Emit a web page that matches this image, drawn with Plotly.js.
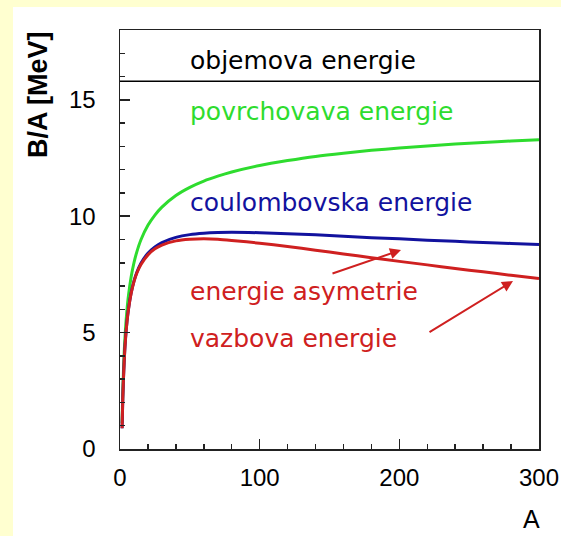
<!DOCTYPE html>
<html>
<head>
<meta charset="utf-8">
<script src="https://cdn.plot.ly/plotly-3.0.1.min.js"></script>
<style>html,body{margin:0;padding:0;background:#ffffd0;}#chart{width:561px;height:536px;}</style>
</head>
<body>
<div id="chart"></div>
<script>
// Mass number A
const massNumber = [1.5, 2, 3, 4, 5, 6, 8, 10, 12, 15, 20, 25, 30, 40, 50, 60, 70, 80, 100, 120, 140, 160, 180, 200, 220, 240, 260, 280, 300];
// volume term (objemova energie)
const volumeA = [0, 300];
const volumeBA = [15.8, 15.8];
// after surface term (povrchovava energie)
const surfaceBA = [1.12, 2.47, 4.15, 5.22, 5.98, 6.56, 7.40, 8.00, 8.46, 8.99, 9.61, 10.05, 10.39, 10.89, 11.24, 11.51, 11.72, 11.90, 12.18, 12.39, 12.57, 12.71, 12.83, 12.93, 13.02, 13.10, 13.17, 13.23, 13.29];
// after Coulomb term (coulombovska energie)
const coulombBA = [0.89, 2.18, 3.78, 4.78, 5.47, 5.98, 6.71, 7.21, 7.58, 7.98, 8.41, 8.68, 8.87, 9.09, 9.21, 9.27, 9.30, 9.31, 9.29, 9.25, 9.20, 9.14, 9.08, 9.03, 8.97, 8.92, 8.87, 8.83, 8.78];
// after asymmetry term = binding energy (vazbova energie)
const bindingBA = [0.89, 2.18, 3.78, 4.78, 5.46, 5.97, 6.69, 7.19, 7.55, 7.93, 8.34, 8.60, 8.76, 8.94, 9.01, 9.03, 9.01, 8.96, 8.84, 8.70, 8.54, 8.38, 8.22, 8.06, 7.91, 7.75, 7.61, 7.46, 7.32];

const W = 561, H = 536, ML = 120, MR = 22, MT = 30, MB = 87;
const PW = W - ML - MR, PH = H - MT - MB;
const px = v => (v - ML) / PW;
const py = v => (H - MB - v) / PH;

const GREEN = '#2edc2e', BLUE = '#12129e', RED = '#cf2020';
const txtFont = 'DejaVu Sans, sans-serif';

const traces = [
  {x: volumeA, y: volumeBA, mode: 'lines', line: {color: '#000000', width: 1.5}, hoverinfo: 'skip'},
  {x: massNumber, y: surfaceBA, mode: 'lines', line: {color: GREEN, width: 3, shape: 'spline', smoothing: 0.8}},
  {x: massNumber, y: coulombBA, mode: 'lines', line: {color: BLUE, width: 3, shape: 'spline', smoothing: 0.8}},
  {x: massNumber, y: bindingBA, mode: 'lines', line: {color: RED, width: 3, shape: 'spline', smoothing: 0.8}}
];

function label(text, color, ypix) {
  return {xref: 'paper', yref: 'paper', x: px(188), y: py(ypix), xanchor: 'left', yanchor: 'middle',
    text: text, showarrow: false, font: {family: txtFont, size: 25, color: color}};
}
function arrow(x0, y0, x1, y1) {
  return {xref: 'paper', yref: 'paper', axref: 'paper', ayref: 'paper',
    x: px(x1), y: py(y1), ax: px(x0), ay: py(y0), text: '', showarrow: true,
    arrowhead: 2, arrowsize: 1.1, arrowwidth: 2, arrowcolor: RED, standoff: 0, startstandoff: 0};
}

const layout = {
  width: W, height: H,
  margin: {l: ML, r: MR, t: MT, b: MB, pad: 0},
  paper_bgcolor: '#ffffd0',
  plot_bgcolor: '#ffffff',
  showlegend: false,
  xaxis: {range: [0, 300], showgrid: false, zeroline: false, showline: true, linecolor: '#222', linewidth: 1.5, mirror: true,
    ticks: 'inside', ticklen: 10, tickwidth: 1.5, tickcolor: '#222', dtick: 100, tick0: 0, ticklabelstandoff: 7,
    tickfont: {family: 'Liberation Sans, Arial, sans-serif', size: 24, color: '#000'},
    minor: {dtick: 20, ticks: 'inside', ticklen: 5, tickwidth: 1.5, tickcolor: '#222', showgrid: false}},
  yaxis: {range: [0, 18], showgrid: false, zeroline: false, showline: true, linecolor: '#222', linewidth: 1.5, mirror: true,
    ticks: 'inside', ticklen: 10, tickwidth: 1.5, tickcolor: '#222', dtick: 5, tick0: 0, ticklabelstandoff: 18,
    tickvals: [0, 5, 10, 15], ticktext: ['0', '5', '10', '15'],
    tickfont: {family: 'Liberation Sans, Arial, sans-serif', size: 24, color: '#000'},
    minor: {dtick: 1, ticks: 'inside', ticklen: 5, tickwidth: 1.5, tickcolor: '#222', showgrid: false}},
  shapes: [
    {type: 'rect', xref: 'paper', yref: 'paper', x0: px(13), x1: px(561), y0: py(536), y1: py(7),
      fillcolor: '#ffffff', line: {width: 0}, layer: 'below'}
  ],
  annotations: [
    label('objemova energie', '#000000', 61),
    label('povrchovava energie', GREEN, 112),
    label('coulombovska energie', BLUE, 202),
    label('energie asymetrie', RED, 291),
    label('vazbova energie', RED, 338),
    arrow(331, 274, 401, 250),
    arrow(428, 333, 513, 281),
    {xref: 'paper', yref: 'paper', x: px(38), y: py(95), textangle: -90, text: '<b>B/A [MeV]</b>', showarrow: false,
      xanchor: 'center', yanchor: 'middle', font: {family: 'Liberation Sans, Arial, sans-serif', size: 27, color: '#000'}},
    {xref: 'paper', yref: 'paper', x: px(531), y: py(519), text: 'A', showarrow: false,
      xanchor: 'center', yanchor: 'middle', font: {family: 'Liberation Sans, Arial, sans-serif', size: 25, color: '#000'}}
  ]
};

Plotly.newPlot('chart', traces, layout, {displayModeBar: false, staticPlot: true});
</script>
</body>
</html>
